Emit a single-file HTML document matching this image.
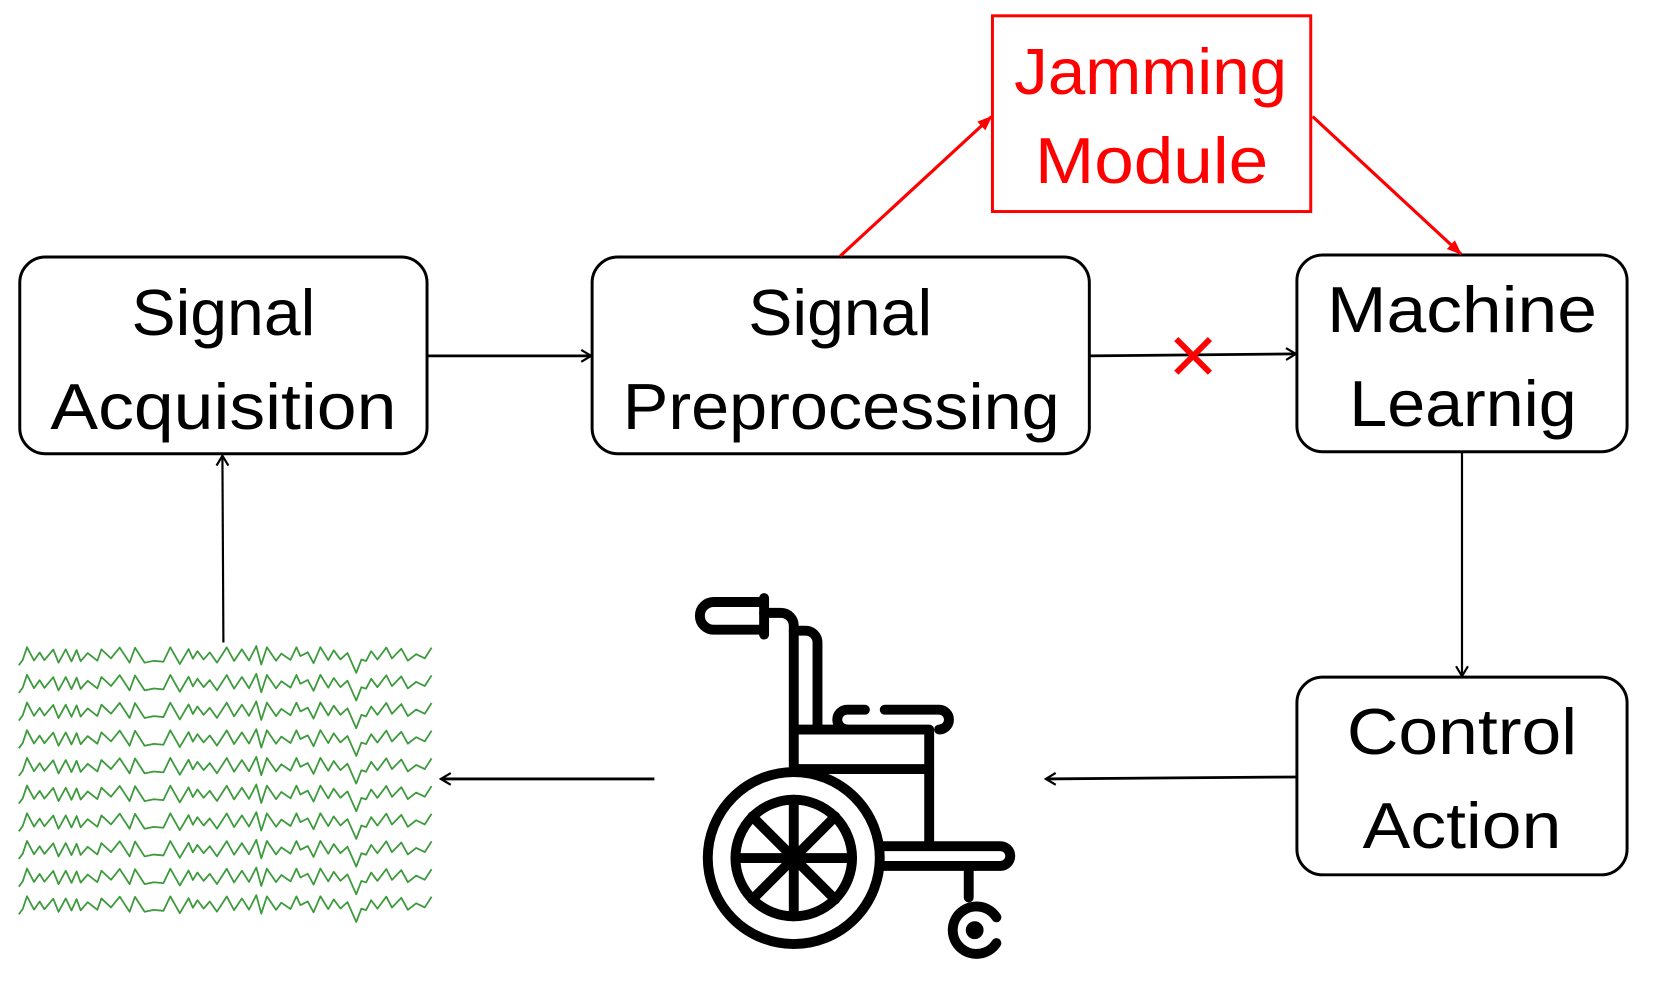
<!DOCTYPE html>
<html><head><meta charset="utf-8"><style>
html,body{margin:0;padding:0;background:#fff;}
svg{display:block;}
text{font-family:"Liberation Sans",sans-serif;}
</style></head><body>
<svg id="s" width="1664" height="982" viewBox="0 0 1664 982" xmlns="http://www.w3.org/2000/svg">
<defs>
<marker id="a" markerWidth="14" markerHeight="14" refX="12" refY="7" orient="auto" markerUnits="userSpaceOnUse">
<path d="M2,1 L12,7 L2,13" fill="none" stroke="#000" stroke-width="2.2"/></marker>
<marker id="r" markerWidth="16" markerHeight="16" refX="14" refY="8" orient="auto" markerUnits="userSpaceOnUse">
<path d="M0,2 L15,8 L0,14 Z" fill="#f00"/></marker>
</defs>
<g transform="scale(0.9885)">
<rect x="20" y="260" width="412" height="199" rx="26" fill="none" stroke="#000" stroke-width="3"/>
<rect x="599" y="260" width="503" height="199" rx="26" fill="none" stroke="#000" stroke-width="3"/>
<rect x="1312" y="258" width="334" height="199" rx="26" fill="none" stroke="#000" stroke-width="3"/>
<rect x="1312" y="685" width="334" height="200" rx="26" fill="none" stroke="#000" stroke-width="3"/>
<rect x="1004" y="16" width="322" height="198" fill="none" stroke="#f00" stroke-width="3"/>
<g font-size="66" text-anchor="middle">
<text x="226" y="339" textLength="186" lengthAdjust="spacingAndGlyphs">Signal</text>
<text x="226" y="434" textLength="350" lengthAdjust="spacingAndGlyphs">Acquisition</text>
<text x="850" y="339" textLength="186" lengthAdjust="spacingAndGlyphs">Signal</text>
<text x="851" y="434" textLength="442" lengthAdjust="spacingAndGlyphs">Preprocessing</text>
<text x="1479" y="336" textLength="273" lengthAdjust="spacingAndGlyphs">Machine</text>
<text x="1480" y="431" textLength="230" lengthAdjust="spacingAndGlyphs">Learnig</text>
<text x="1479" y="763" textLength="233" lengthAdjust="spacingAndGlyphs">Control</text>
<text x="1479" y="858" textLength="201" lengthAdjust="spacingAndGlyphs">Action</text>
<text x="1164" y="95" fill="#f00" textLength="276" lengthAdjust="spacingAndGlyphs">Jamming</text>
<text x="1165" y="185" fill="#f00" textLength="236" lengthAdjust="spacingAndGlyphs">Module</text>
</g>
<line x1="432" y1="360" x2="598" y2="360" stroke="#000" stroke-width="2.8" marker-end="url(#a)"/>
<line x1="1102" y1="360" x2="1311" y2="358" stroke="#000" stroke-width="2.8" marker-end="url(#a)"/>
<line x1="1479" y1="457" x2="1479" y2="684" stroke="#000" stroke-width="2.2" marker-end="url(#a)"/>
<line x1="1312" y1="786" x2="1058" y2="788" stroke="#000" stroke-width="2.8" marker-end="url(#a)"/>
<line x1="662" y1="788" x2="446" y2="788" stroke="#000" stroke-width="2.8" marker-end="url(#a)"/>
<line x1="226" y1="650" x2="225" y2="461" stroke="#000" stroke-width="2.2" marker-end="url(#a)"/>
<line x1="850" y1="259" x2="1003" y2="118" stroke="#f00" stroke-width="3.2" marker-end="url(#r)"/>
<line x1="1328" y1="118" x2="1478" y2="257" stroke="#f00" stroke-width="3.2" marker-end="url(#r)"/>
<g stroke="#f00" stroke-width="6"><line x1="1190" y1="343" x2="1224" y2="377"/><line x1="1224" y1="343" x2="1190" y2="377"/></g>
<g transform="translate(10,8)" fill="none" stroke="#000" stroke-width="10" stroke-linecap="round" stroke-linejoin="round">
<path d="M760,601 H712 A14,14 0 0 0 712,629 H760"/>
<path d="M763,597 V634"/>
<path d="M763,612 H780 A13,13 0 0 1 793,625 V770"/>
<path d="M793,630 H805 A12,12 0 0 1 817,642 V728"/>
<path d="M793,730 H930 V843"/>
<path d="M793,770 H930"/>
<path d="M865,710 H847 A10,10 0 0 0 847,730"/>
<path d="M885,710 H940 A10,10 0 0 1 940,730"/>
<circle cx="793" cy="860" r="87"/>
<circle cx="793" cy="860" r="59"/>
<path d="M793,801 V919 M734,860 H852 M751,818 L835,902 M835,818 L751,902"/>
<path d="M880,848 H1002 A10,10 0 0 1 1002,868 H880"/>
<path d="M970,868 V900"/>
<path d="M998,920 A24,24 0 1 0 998,946"/>
<circle cx="976" cy="933" r="4" fill="#000"/>
</g>
<g id="eeg" fill="none" stroke="#3c9a3c" stroke-width="1.8"></g>
</g>
</svg>
<script>
(function(){
var seed=11;function rnd(){seed=(seed*16807)%2147483647;return seed/2147483647;}
var pts=[],x=19;pts.push([19,10]);
var up=true;
while(x<434){x+=4+rnd()*6;up=!up;var v=(up?-1:1)*(2+rnd()*7)+(rnd()-0.5)*3; if(x>150&&x<165)v+=7; if(x>355&&x<368)v+=12;pts.push([x,v]);}
var d="M"+pts.map(function(p){return p[0].toFixed(1)+","+p[1].toFixed(1);}).join(" L");
var g=document.getElementById("eeg");
for(var i=0;i<10;i++){var p=document.createElementNS("http://www.w3.org/2000/svg","path");
p.setAttribute("d",d);p.setAttribute("stroke-linejoin","round");p.setAttribute("transform","translate(0,"+(663+i*28)+")");g.appendChild(p);}
})();
</script>
</body></html>
